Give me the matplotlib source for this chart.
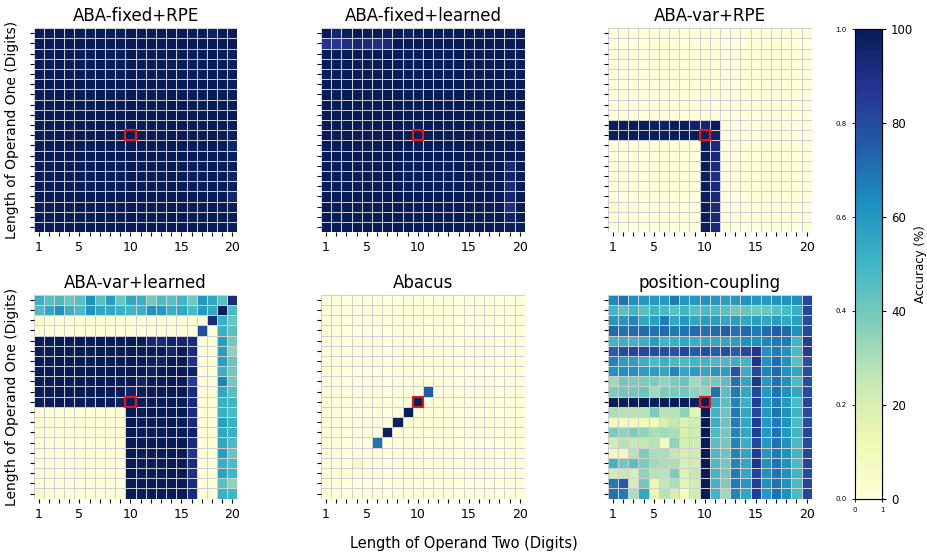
import numpy as np
import matplotlib.pyplot as plt
from matplotlib.patches import Rectangle

lengths = list(range(1, 21))
shown_ticks = [1, 5, 10, 15, 20]
titles = ['ABA-fixed+RPE', 'ABA-fixed+learned', 'ABA-var+RPE',
          'ABA-var+learned', 'Abacus', 'position-coupling']

# accuracy (%) rows listed top to bottom: operand one length 20 -> 1, columns operand two 1 -> 20
aba_fixed_rpe = [
    [100, 100, 100, 100, 100, 100, 100, 100, 100, 100, 100, 100, 100, 100, 100, 100, 100, 97, 100, 100],
    [100, 100, 100, 100, 100, 100, 100, 100, 100, 100, 100, 100, 100, 100, 100, 100, 100, 100, 100, 100],
    [100, 100, 100, 100, 100, 100, 100, 100, 100, 100, 100, 100, 100, 100, 100, 100, 100, 100, 100, 99],
    [100, 100, 100, 99, 100, 100, 100, 100, 100, 100, 100, 100, 100, 99, 100, 100, 100, 100, 100, 99],
    [100, 100, 100, 100, 100, 100, 100, 100, 100, 100, 100, 100, 100, 100, 100, 100, 100, 100, 100, 99],
    [100, 100, 100, 100, 100, 100, 100, 100, 100, 100, 100, 100, 100, 100, 100, 100, 100, 100, 100, 99],
    [100, 100, 100, 100, 100, 100, 100, 100, 100, 100, 100, 100, 100, 100, 100, 100, 100, 100, 100, 99],
    [100, 100, 100, 100, 100, 100, 100, 100, 100, 100, 100, 100, 100, 100, 100, 100, 100, 100, 100, 99],
    [100, 100, 100, 100, 100, 100, 100, 100, 100, 100, 100, 100, 100, 100, 100, 100, 100, 100, 100, 100],
    [100, 100, 100, 100, 100, 100, 100, 100, 100, 100, 100, 100, 100, 100, 100, 100, 100, 100, 100, 99],
    [100, 100, 100, 100, 100, 100, 100, 100, 100, 100, 100, 100, 100, 100, 100, 100, 100, 100, 100, 99],
    [100, 100, 100, 100, 100, 100, 100, 100, 100, 100, 100, 100, 100, 100, 100, 100, 100, 100, 100, 96],
    [100, 100, 100, 100, 100, 100, 100, 100, 100, 100, 100, 100, 100, 100, 100, 100, 100, 100, 100, 99],
    [100, 100, 100, 100, 100, 100, 100, 100, 100, 100, 100, 100, 100, 100, 100, 100, 100, 100, 100, 99],
    [100, 100, 100, 100, 100, 100, 100, 100, 100, 100, 100, 100, 100, 100, 100, 100, 100, 100, 100, 97],
    [100, 100, 100, 100, 100, 100, 100, 100, 100, 100, 100, 100, 100, 100, 100, 100, 100, 100, 100, 99],
    [100, 100, 100, 100, 100, 100, 100, 100, 100, 100, 100, 100, 100, 100, 100, 100, 100, 100, 100, 95],
    [100, 100, 100, 100, 100, 100, 100, 100, 100, 100, 100, 100, 100, 100, 100, 100, 100, 100, 100, 99],
    [100, 100, 100, 100, 100, 100, 100, 100, 100, 100, 100, 100, 100, 100, 100, 100, 100, 100, 100, 99],
    [100, 100, 100, 100, 100, 100, 100, 100, 100, 100, 100, 100, 100, 100, 100, 100, 100, 100, 100, 99],
]

aba_fixed_learned = [
    [100, 95, 99, 100, 100, 100, 98, 100, 97, 100, 100, 100, 100, 100, 100, 100, 100, 100, 99, 100],
    [88, 86, 91, 94, 92, 90, 92, 100, 100, 100, 100, 100, 100, 100, 100, 100, 100, 100, 100, 100],
    [100, 100, 100, 100, 100, 100, 100, 100, 100, 100, 100, 100, 100, 100, 100, 100, 100, 100, 100, 100],
    [100, 100, 100, 100, 100, 100, 100, 100, 100, 100, 100, 100, 100, 100, 100, 100, 100, 100, 100, 100],
    [100, 100, 100, 100, 100, 100, 100, 100, 100, 100, 100, 100, 100, 100, 100, 100, 100, 100, 100, 100],
    [100, 100, 100, 100, 100, 100, 100, 100, 100, 100, 100, 100, 100, 100, 100, 100, 100, 100, 100, 100],
    [100, 100, 100, 100, 100, 100, 100, 100, 100, 100, 100, 100, 100, 100, 100, 100, 100, 100, 100, 100],
    [100, 100, 100, 100, 100, 100, 100, 100, 100, 100, 100, 100, 100, 100, 100, 100, 100, 100, 100, 100],
    [100, 100, 100, 100, 100, 100, 100, 100, 100, 100, 100, 100, 100, 100, 100, 100, 100, 100, 100, 100],
    [100, 100, 100, 100, 100, 100, 100, 100, 100, 100, 100, 100, 100, 100, 100, 100, 100, 100, 100, 100],
    [100, 100, 100, 100, 100, 100, 100, 100, 100, 100, 100, 100, 100, 100, 100, 100, 100, 100, 100, 100],
    [100, 100, 100, 100, 100, 100, 100, 100, 100, 100, 100, 100, 100, 100, 100, 100, 100, 100, 100, 100],
    [100, 100, 100, 100, 100, 100, 100, 100, 100, 100, 100, 100, 100, 100, 100, 100, 100, 100, 100, 100],
    [100, 100, 100, 100, 100, 100, 100, 100, 100, 100, 100, 100, 100, 100, 100, 100, 100, 100, 93, 100],
    [100, 100, 100, 100, 100, 100, 100, 100, 100, 100, 100, 100, 100, 100, 100, 100, 100, 100, 96, 100],
    [100, 100, 100, 100, 100, 100, 100, 100, 100, 100, 100, 100, 100, 100, 100, 100, 100, 100, 92, 100],
    [100, 100, 100, 100, 100, 100, 100, 100, 100, 100, 100, 100, 100, 100, 100, 100, 100, 100, 95, 100],
    [100, 100, 100, 100, 100, 100, 100, 100, 100, 100, 100, 100, 100, 100, 100, 100, 100, 100, 90, 100],
    [100, 100, 100, 100, 100, 100, 100, 100, 100, 100, 100, 100, 100, 100, 100, 100, 100, 100, 96, 100],
    [100, 100, 100, 100, 100, 100, 100, 100, 100, 100, 100, 100, 100, 100, 100, 100, 100, 100, 99, 100],
]

aba_var_rpe = [
    [0, 0, 0, 0, 0, 0, 0, 0, 0, 0, 0, 0, 0, 0, 0, 0, 0, 0, 0, 0],
    [0, 0, 0, 0, 0, 0, 0, 0, 0, 0, 0, 0, 0, 0, 0, 0, 0, 0, 0, 0],
    [0, 0, 0, 0, 0, 0, 0, 0, 0, 0, 0, 0, 0, 0, 0, 0, 0, 0, 0, 0],
    [0, 0, 0, 0, 0, 0, 0, 0, 0, 0, 0, 0, 0, 0, 0, 0, 0, 0, 0, 0],
    [0, 0, 0, 0, 0, 0, 0, 0, 0, 0, 0, 0, 0, 0, 0, 0, 0, 0, 0, 0],
    [0, 0, 0, 0, 0, 0, 0, 0, 0, 0, 0, 0, 0, 0, 0, 0, 0, 0, 0, 0],
    [0, 0, 0, 0, 0, 0, 0, 0, 0, 0, 0, 0, 0, 0, 0, 0, 0, 0, 0, 0],
    [0, 0, 0, 0, 0, 0, 0, 0, 0, 0, 0, 0, 0, 0, 0, 0, 0, 0, 0, 0],
    [0, 0, 0, 0, 0, 0, 0, 0, 0, 0, 0, 0, 0, 0, 0, 0, 0, 0, 0, 0],
    [99, 99, 99, 99, 98, 97, 99, 99, 96, 95, 99, 0, 0, 0, 0, 0, 0, 0, 0, 0],
    [99, 99, 99, 99, 99, 99, 99, 99, 99, 99, 97, 0, 0, 0, 0, 0, 0, 0, 0, 0],
    [0, 0, 0, 0, 0, 0, 0, 0, 0, 99, 92, 0, 0, 0, 0, 0, 0, 0, 0, 0],
    [0, 0, 0, 0, 0, 0, 0, 0, 0, 99, 93, 0, 0, 0, 0, 0, 0, 0, 0, 0],
    [0, 0, 0, 0, 0, 0, 0, 0, 0, 99, 92, 0, 0, 0, 0, 0, 0, 0, 0, 0],
    [0, 0, 0, 0, 0, 0, 0, 0, 0, 98, 90, 0, 0, 0, 0, 0, 0, 0, 0, 0],
    [0, 0, 0, 0, 0, 0, 0, 0, 0, 99, 92, 0, 0, 0, 0, 0, 0, 0, 0, 0],
    [0, 0, 0, 0, 0, 0, 0, 0, 0, 99, 93, 0, 0, 0, 0, 0, 0, 0, 0, 0],
    [3, 3, 2, 0, 0, 0, 0, 0, 0, 99, 92, 0, 0, 0, 0, 0, 0, 0, 0, 0],
    [0, 0, 0, 0, 0, 0, 0, 0, 0, 99, 93, 0, 0, 0, 0, 0, 0, 0, 0, 0],
    [0, 0, 0, 0, 0, 0, 0, 0, 0, 99, 93, 0, 0, 0, 0, 0, 0, 0, 0, 0],
]

aba_var_learned = [
    [52, 45, 48, 42, 45, 62, 45, 58, 42, 55, 52, 40, 48, 45, 50, 40, 60, 55, 45, 92],
    [48, 55, 62, 52, 48, 62, 55, 55, 52, 50, 52, 62, 60, 52, 55, 48, 60, 55, 99, 48],
    [5, 1, 1, 1, 2, 1, 1, 3, 1, 1, 2, 1, 1, 1, 1, 1, 1, 92, 52, 42],
    [1, 1, 1, 1, 1, 1, 1, 1, 1, 1, 1, 1, 1, 1, 1, 1, 80, 1, 52, 45],
    [100, 100, 100, 100, 100, 100, 100, 100, 100, 100, 100, 94, 93, 96, 95, 92, 1, 1, 58, 40],
    [99, 100, 100, 100, 100, 100, 100, 100, 100, 100, 100, 100, 100, 95, 100, 92, 1, 1, 58, 35],
    [100, 100, 100, 100, 100, 100, 100, 100, 100, 100, 100, 98, 96, 100, 100, 90, 1, 1, 58, 42],
    [100, 100, 100, 100, 100, 100, 100, 100, 100, 100, 100, 98, 100, 100, 100, 97, 1, 1, 52, 40],
    [100, 100, 100, 100, 100, 100, 100, 100, 100, 100, 96, 100, 100, 100, 100, 85, 1, 1, 65, 40],
    [100, 100, 100, 100, 100, 100, 100, 100, 100, 96, 100, 100, 100, 100, 100, 92, 1, 1, 55, 45],
    [100, 100, 100, 100, 100, 100, 100, 100, 98, 99, 100, 100, 100, 100, 100, 93, 1, 1, 52, 50],
    [1, 1, 1, 1, 1, 1, 1, 1, 1, 100, 100, 100, 100, 100, 100, 92, 1, 1, 52, 48],
    [1, 1, 1, 1, 1, 1, 1, 1, 1, 100, 100, 100, 100, 100, 100, 93, 1, 1, 58, 52],
    [1, 1, 1, 1, 1, 1, 1, 1, 1, 100, 100, 100, 100, 100, 100, 97, 1, 1, 55, 52],
    [1, 1, 1, 1, 1, 1, 1, 1, 1, 100, 100, 100, 100, 100, 100, 92, 1, 1, 55, 48],
    [1, 1, 1, 1, 1, 1, 1, 1, 1, 100, 100, 100, 100, 100, 100, 88, 1, 1, 58, 42],
    [1, 1, 1, 1, 1, 1, 1, 1, 1, 100, 100, 100, 100, 100, 100, 92, 1, 1, 52, 48],
    [1, 1, 1, 1, 1, 1, 1, 1, 1, 100, 100, 100, 100, 100, 100, 91, 1, 1, 56, 50],
    [1, 1, 1, 1, 1, 1, 1, 1, 1, 100, 100, 100, 100, 100, 100, 92, 1, 1, 45, 35],
    [5, 1, 1, 1, 1, 1, 1, 1, 1, 100, 100, 100, 100, 100, 100, 92, 1, 1, 52, 50],
]

abacus = [
    [0, 0, 0, 0, 0, 0, 0, 0, 0, 0, 0, 0, 0, 0, 0, 0, 0, 0, 0, 0],
    [0, 0, 0, 0, 0, 0, 0, 0, 0, 0, 0, 0, 0, 0, 0, 0, 0, 0, 0, 0],
    [0, 0, 0, 0, 0, 0, 0, 0, 0, 0, 0, 0, 0, 0, 0, 0, 0, 0, 0, 0],
    [0, 0, 0, 0, 0, 0, 0, 0, 0, 0, 0, 0, 0, 0, 0, 0, 0, 0, 0, 0],
    [0, 0, 0, 0, 0, 0, 0, 0, 0, 0, 0, 0, 0, 0, 0, 0, 0, 0, 0, 0],
    [0, 0, 0, 0, 0, 0, 0, 0, 0, 0, 0, 0, 0, 0, 0, 0, 0, 0, 0, 0],
    [0, 0, 0, 0, 0, 0, 0, 0, 0, 0, 0, 0, 0, 0, 0, 0, 0, 0, 0, 0],
    [0, 0, 0, 0, 0, 0, 0, 0, 0, 0, 0, 0, 0, 0, 0, 0, 0, 0, 0, 0],
    [0, 0, 0, 0, 0, 0, 0, 0, 0, 0, 0, 0, 0, 0, 0, 0, 0, 0, 0, 0],
    [0, 0, 0, 0, 0, 0, 0, 0, 0, 0, 75, 0, 0, 0, 0, 0, 0, 0, 0, 0],
    [0, 0, 0, 0, 0, 0, 0, 0, 0, 99, 0, 0, 0, 0, 0, 0, 0, 0, 0, 0],
    [0, 0, 0, 0, 0, 0, 0, 0, 99, 0, 0, 0, 0, 0, 0, 0, 0, 0, 0, 0],
    [0, 0, 0, 0, 0, 0, 0, 98, 0, 0, 0, 0, 0, 0, 0, 0, 0, 0, 0, 0],
    [0, 0, 0, 0, 0, 0, 98, 0, 0, 0, 0, 0, 0, 0, 0, 0, 0, 0, 0, 0],
    [0, 0, 0, 0, 0, 70, 0, 0, 0, 0, 0, 0, 0, 0, 0, 0, 0, 0, 0, 0],
    [0, 0, 0, 0, 0, 0, 0, 0, 0, 0, 0, 0, 0, 0, 0, 0, 0, 0, 0, 0],
    [0, 0, 0, 8, 0, 0, 0, 0, 0, 0, 0, 0, 0, 0, 0, 0, 0, 0, 0, 0],
    [0, 0, 2, 0, 0, 0, 0, 0, 0, 0, 0, 0, 0, 0, 0, 0, 0, 0, 0, 0],
    [0, 0, 0, 0, 0, 0, 0, 0, 0, 0, 0, 0, 0, 0, 0, 0, 0, 0, 0, 0],
    [0, 0, 0, 0, 0, 0, 0, 0, 0, 0, 0, 0, 0, 0, 0, 0, 0, 0, 0, 0],
]

position_coupling = [
    [65, 70, 62, 60, 60, 60, 68, 60, 60, 62, 60, 58, 60, 62, 60, 60, 62, 62, 62, 82],
    [50, 45, 50, 45, 50, 48, 45, 50, 45, 48, 48, 45, 40, 42, 40, 42, 45, 48, 52, 82],
    [60, 60, 65, 55, 58, 68, 55, 60, 55, 58, 58, 55, 58, 55, 58, 55, 58, 55, 58, 80],
    [72, 70, 72, 72, 70, 72, 68, 70, 72, 70, 72, 75, 70, 72, 68, 72, 75, 72, 62, 82],
    [50, 52, 50, 52, 58, 50, 52, 55, 52, 55, 55, 55, 58, 62, 62, 65, 68, 68, 50, 85],
    [75, 80, 82, 82, 80, 80, 78, 82, 75, 80, 75, 80, 75, 82, 88, 62, 68, 62, 48, 85],
    [65, 58, 58, 52, 48, 52, 48, 48, 50, 50, 48, 48, 52, 50, 88, 62, 72, 62, 45, 78],
    [62, 62, 62, 58, 58, 55, 65, 55, 58, 55, 60, 58, 78, 52, 82, 65, 72, 62, 55, 80],
    [32, 40, 38, 38, 38, 35, 38, 42, 32, 38, 40, 45, 70, 55, 88, 60, 70, 62, 48, 80],
    [38, 40, 40, 42, 32, 38, 38, 40, 35, 35, 70, 45, 68, 55, 82, 60, 70, 62, 55, 80],
    [100, 99, 100, 100, 99, 100, 99, 99, 98, 100, 55, 45, 65, 52, 85, 60, 68, 60, 48, 82],
    [30, 28, 28, 28, 38, 28, 28, 35, 15, 100, 50, 42, 68, 55, 82, 60, 70, 62, 50, 80],
    [10, 8, 10, 10, 8, 20, 25, 18, 22, 100, 52, 42, 68, 55, 85, 60, 68, 62, 48, 80],
    [38, 35, 38, 35, 30, 32, 30, 20, 22, 100, 48, 40, 65, 55, 85, 60, 70, 60, 50, 82],
    [22, 28, 25, 25, 28, 8, 35, 20, 22, 100, 45, 40, 65, 52, 82, 60, 70, 62, 48, 80],
    [10, 10, 28, 38, 30, 30, 25, 20, 22, 100, 48, 42, 65, 55, 85, 60, 68, 62, 50, 82],
    [50, 40, 45, 38, 32, 30, 30, 20, 22, 100, 48, 40, 65, 55, 88, 62, 70, 62, 48, 82],
    [22, 25, 20, 35, 28, 28, 38, 18, 25, 100, 50, 40, 68, 55, 82, 62, 70, 62, 50, 80],
    [68, 75, 20, 40, 12, 25, 30, 15, 22, 100, 50, 38, 68, 60, 85, 62, 70, 62, 48, 82],
    [70, 68, 30, 55, 12, 28, 20, 8, 22, 100, 50, 32, 65, 55, 85, 60, 70, 62, 48, 82],
]

results = [aba_fixed_rpe, aba_fixed_learned, aba_var_rpe,
           aba_var_learned, abacus, position_coupling]

fig = plt.figure(figsize=(9.27, 5.52), dpi=100)

lefts = [0.0362, 0.3462, 0.6557]
bottoms = [0.5795, 0.0966]
w, h = 0.2200, 0.3695

edges = np.arange(0.5, 21.5, 1.0)
mesh = None
for i, (title, vals) in enumerate(zip(titles, results)):
    r, c = divmod(i, 3)
    ax = fig.add_axes([lefts[c], bottoms[r], w, h])
    z = np.array(vals, dtype=float)[::-1]
    mesh = ax.pcolormesh(edges, edges, z, cmap='YlGnBu', vmin=0, vmax=100,
                         edgecolors='#d0d0d4', linewidth=0.65)
    ax.add_patch(Rectangle((9.5, 9.5), 1, 1, fill=False, edgecolor='#e8161b', lw=1.5, zorder=3))
    ax.set_xlim(0.5, 20.5)
    ax.set_ylim(0.5, 20.5)
    ax.set_xticks(lengths)
    ax.set_xticklabels([str(v) if v in shown_ticks else '' for v in lengths], fontsize=9)
    ax.set_yticks(lengths)
    ax.set_yticklabels([])
    ax.tick_params(length=3, width=0.8)
    for s in ax.spines.values():
        s.set_visible(False)
    ax.set_title(title, fontsize=12, pad=5)
    if c == 0:
        ax.set_ylabel('Length of Operand One (Digits)', fontsize=10)

cb_rect = [0.9223, 0.0966, 0.0293, 0.850]
ax_bg = fig.add_axes(cb_rect)
ax_bg.set_xticks([0, 1])
ax_bg.set_xticklabels(['0', '1'])
ax_bg.set_yticks([0, 0.2, 0.4, 0.6, 0.8, 1.0])
ax_bg.tick_params(labelsize=5, length=2.5, width=0.6)
cax = fig.add_axes(cb_rect)
cb = fig.colorbar(mesh, cax=cax)
cb.set_ticks([0, 20, 40, 60, 80, 100])
cb.ax.tick_params(labelsize=8.5, length=3)
cb.set_label('Accuracy (%)', fontsize=8.5, labelpad=0.5)

fig.text(0.5, 0.008, 'Length of Operand Two (Digits)', ha='center', fontsize=10.5)

fig.savefig('out.png', dpi=100)
